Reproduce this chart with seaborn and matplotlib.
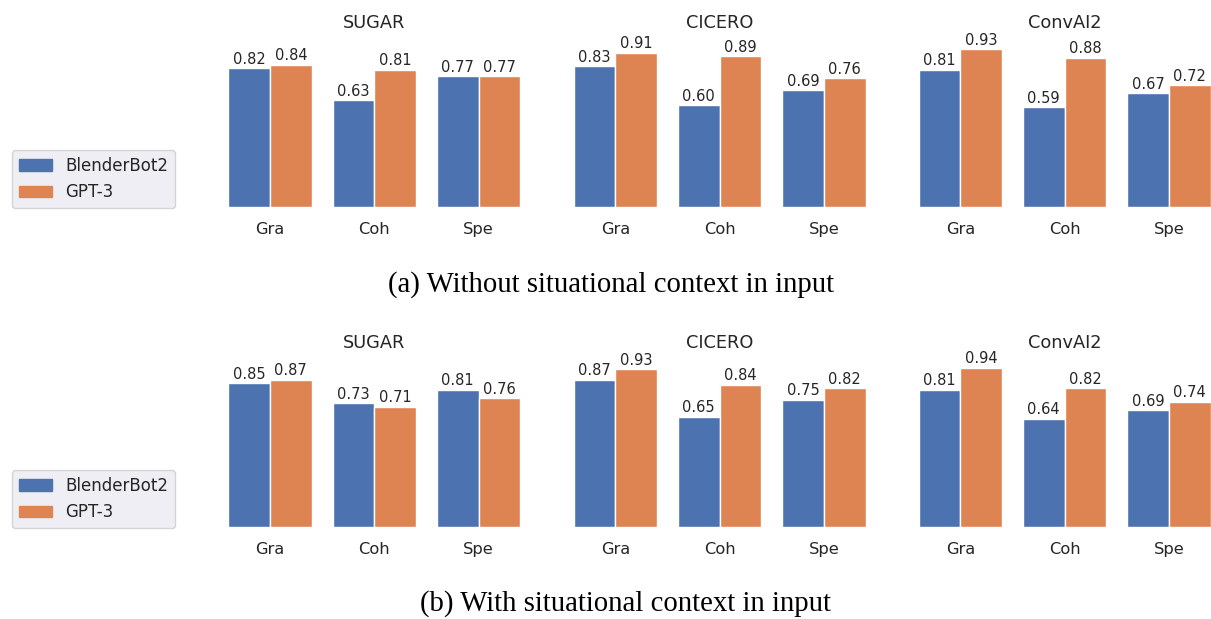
import numpy as np
import pandas as pd
import seaborn as sns
import matplotlib.pyplot as plt

datasets = ["SUGAR", "CICERO", "ConvAI2"]
metrics = ["Gra", "Coh", "Spe"]
models = ["BlenderBot2", "GPT-3"]

# (a) without situational context
bb2_without = {"SUGAR": [0.82, 0.63, 0.77], "CICERO": [0.83, 0.60, 0.69], "ConvAI2": [0.81, 0.59, 0.67]}
gpt3_without = {"SUGAR": [0.84, 0.81, 0.77], "CICERO": [0.91, 0.89, 0.76], "ConvAI2": [0.93, 0.88, 0.72]}

# (b) with situational context
bb2_with = {"SUGAR": [0.85, 0.73, 0.81], "CICERO": [0.87, 0.65, 0.75], "ConvAI2": [0.81, 0.64, 0.69]}
gpt3_with = {"SUGAR": [0.87, 0.71, 0.76], "CICERO": [0.93, 0.84, 0.82], "ConvAI2": [0.94, 0.82, 0.74]}

captions = ["(a) Without situational context in input", "(b) With situational context in input"]

sns.set_theme(style="darkgrid")
plt.rcParams["font.family"] = ["DejaVu Sans"]
palette = sns.color_palette("deep", 2)

W, H = 1211, 619
fig = plt.figure(figsize=(W / 100, H / 100), dpi=100)

lefts = [217.8, 563.1, 908.1]
bottoms = [207, 527]
ax_w, ax_h = 313, 169.5


def make_df(bb2, gpt3, name):
    rows = []
    for m, v in zip(metrics, bb2[name]):
        rows.append({"metric": m, "model": models[0], "score": v})
    for m, v in zip(metrics, gpt3[name]):
        rows.append({"metric": m, "model": models[1], "score": v})
    return pd.DataFrame(rows)


rows_data = [(bb2_without, gpt3_without), (bb2_with, gpt3_with)]
cap_x = [611, 625]
cap_y = [285, 604]

for r, (bb2, gpt3) in enumerate(rows_data):
    for c, name in enumerate(datasets):
        ax = fig.add_axes([lefts[c] / W, 1 - bottoms[r] / H, ax_w / W, ax_h / H])
        df = make_df(bb2, gpt3, name)
        sns.barplot(data=df, x="metric", y="score", hue="model", palette=palette,
                    saturation=1, ax=ax, legend=False, edgecolor="white", linewidth=1)
        for cont in ax.containers:
            ax.bar_label(cont, fmt="%.2f", fontsize=10.5, padding=1, color="#262626")
        ax.set_ylim(0, 1.0)
        ax.set_xlim(-0.5, 2.5)
        ax.set_facecolor("white")
        ax.grid(False)
        ax.set_yticks([])
        ax.set_xlabel("")
        ax.set_ylabel("")
        ax.tick_params(axis="x", length=0, pad=11, labelsize=11.7)
        ax.set_title(name, fontsize=12.8, pad=7)
        for s in ax.spines.values():
            s.set_visible(False)
        if c == 0:
            handles = [plt.Rectangle((0, 0), 1, 1, color=palette[i]) for i in range(2)]
            fig.legend(handles, models, loc="lower left",
                       bbox_to_anchor=(12 / W, 1 - (bottoms[r] + 1) / H),
                       fontsize=12, frameon=True, borderaxespad=0)
    fig.text(cap_x[r] / W, 1 - cap_y[r] / H, captions[r], ha="center", va="center",
             fontsize=20.7, family="Liberation Serif", color="black")

fig.savefig("out.png", dpi=100, facecolor="white")
